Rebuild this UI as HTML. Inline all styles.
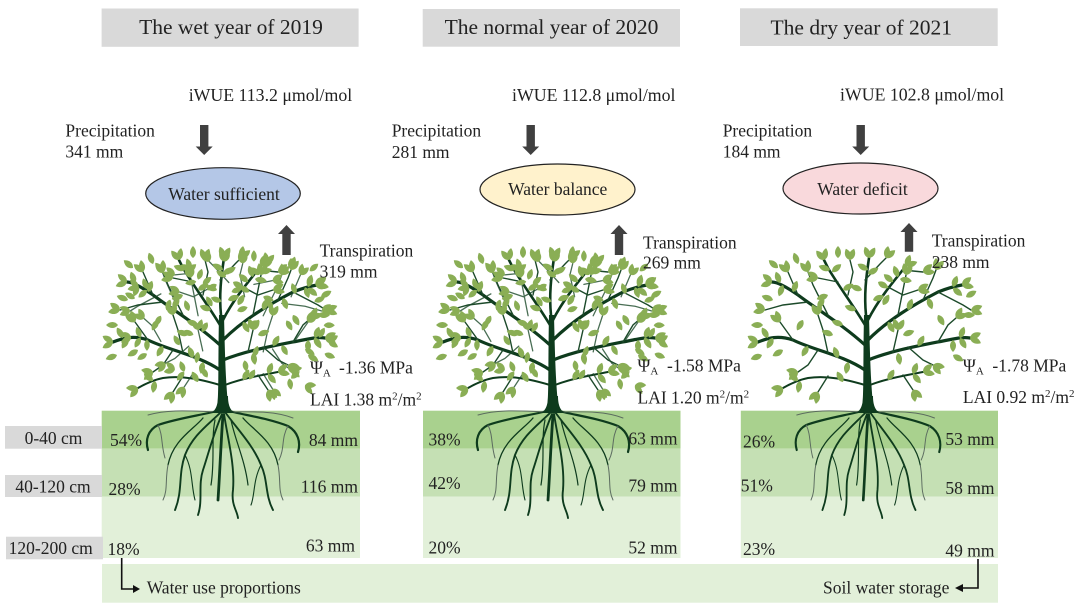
<!DOCTYPE html>
<html><head><meta charset="utf-8"><style>
html,body{margin:0;padding:0;background:#fff;}
svg{display:block;}
</style></head><body>
<svg width="1080" height="608" viewBox="0 0 1080 608" xmlns="http://www.w3.org/2000/svg" font-family="'Liberation Serif','Times New Roman',serif" fill="#222">
<defs>
<path id="L" d="M0,0 C3,-4 8,-4 12,0 C8,4 3,4 0,0Z" fill="#8aae55"/>
<g id="branches" fill="none" stroke="#0e3b1d" stroke-linecap="round">
  <path stroke-width="3.2" d="M-3,-40 C-25,-55 -55,-60 -75,-70 C-90,-75 -100,-72 -110,-68"/>
  <path stroke-width="3.2" d="M-3,-65 C-25,-85 -50,-100 -70,-115 C-80,-122 -90,-128 -96,-128"/>
  <path stroke-width="2.6" d="M-3,-85 C-15,-105 -30,-125 -40,-142 L-44,-150"/>
  <path stroke-width="2.6" d="M-2,-95 C-4,-115 -2,-132 1,-152"/>
  <path stroke-width="2.6" d="M0,-90 C10,-110 25,-128 38,-144"/>
  <path stroke-width="3.2" d="M0,-70 C20,-90 45,-105 70,-118 C80,-122 88,-124 94,-125"/>
  <path stroke-width="3.2" d="M0,-50 C25,-60 55,-65 80,-70 C90,-72 96,-73 102,-72"/>
  <path stroke-width="2" d="M-3,-25 C-20,-30 -40,-35 -60,-32 C-70,-30 -78,-26 -85,-22"/>
  <path stroke-width="2" d="M2,-25 C20,-32 40,-35 55,-38"/>
</g>
<g id="twigs" fill="none" stroke="#1c4a2a" stroke-width="1.4" stroke-linecap="round">
  <path d="M-50,-60 L-60,-45 L-70,-38"/>
  <path d="M-75,-70 L-88,-88"/>
  <path d="M-40,-57 L-45,-80 L-50,-95"/>
  <path d="M-40,-95 L-55,-125 L-60,-138"/>
  <path d="M-70,-115 L-80,-138"/>
  <path d="M-60,-108 L-85,-105 L-103,-100"/>
  <path d="M-20,-115 L-15,-138 L-18,-150"/>
  <path d="M-30,-128 L-50,-132"/>
  <path d="M-3,-130 L12,-146 L18,-152"/>
  <path d="M20,-123 L35,-115 L50,-120"/>
  <path d="M35,-140 L55,-138"/>
  <path d="M30,-95 L35,-120 L38,-135"/>
  <path d="M55,-110 L65,-132 L68,-140"/>
  <path d="M70,-118 L95,-105 L103,-100"/>
  <path d="M40,-63 L55,-50 L65,-45"/>
  <path d="M70,-68 L80,-85 L88,-92"/>
  <path d="M25,-58 L30,-80"/>
  <path d="M-40,-34 L-50,-18"/>
  <path d="M35,-35 L45,-20"/>
</g>
<g id="leaves">
  <use href="#L" transform="translate(-110,-68) rotate(150)"/><use href="#L" transform="translate(-110,-68) rotate(210)"/>
  <use href="#L" transform="translate(-100,-72) rotate(240)"/><use href="#L" transform="translate(-95,-72) rotate(120)"/>
  <use href="#L" transform="translate(-96,-128) rotate(160)"/><use href="#L" transform="translate(-96,-128) rotate(220)"/>
  <use href="#L" transform="translate(-88,-127) rotate(250)"/><use href="#L" transform="translate(-85,-125) rotate(110)"/>
  <use href="#L" transform="translate(-44,-150) rotate(230)"/><use href="#L" transform="translate(-44,-150) rotate(280)"/>
  <use href="#L" transform="translate(-38,-140) rotate(200)"/><use href="#L" transform="translate(-36,-138) rotate(320)"/>
  <use href="#L" transform="translate(1,-152) rotate(250)"/><use href="#L" transform="translate(1,-152) rotate(300)"/>
  <use href="#L" transform="translate(0,-140) rotate(210)"/><use href="#L" transform="translate(0,-136) rotate(330)"/>
  <use href="#L" transform="translate(38,-144) rotate(290)"/><use href="#L" transform="translate(38,-144) rotate(340)"/>
  <use href="#L" transform="translate(30,-133) rotate(250)"/><use href="#L" transform="translate(32,-131) rotate(10)"/>
  <use href="#L" transform="translate(94,-125) rotate(320)"/><use href="#L" transform="translate(94,-125) rotate(10)"/>
  <use href="#L" transform="translate(85,-123) rotate(290)"/><use href="#L" transform="translate(85,-122) rotate(40)"/>
  <use href="#L" transform="translate(102,-72) rotate(335)"/><use href="#L" transform="translate(102,-72) rotate(25)"/>
  <use href="#L" transform="translate(92,-72) rotate(290)"/><use href="#L" transform="translate(92,-72) rotate(60)"/>
  <use href="#L" transform="translate(-85,-22) rotate(130)"/><use href="#L" transform="translate(-85,-22) rotate(180)"/>
  <use href="#L" transform="translate(-70,-29) rotate(220)"/><use href="#L" transform="translate(-68,-29) rotate(100)"/>
  <use href="#L" transform="translate(55,-38) rotate(320)"/><use href="#L" transform="translate(55,-38) rotate(10)"/>
  <use href="#L" transform="translate(45,-36) rotate(290)"/><use href="#L" transform="translate(45,-36) rotate(50)"/>
  <use href="#L" transform="translate(-70,-38) rotate(140)"/><use href="#L" transform="translate(-70,-38) rotate(190)"/>
  <use href="#L" transform="translate(-88,-88) rotate(215)"/><use href="#L" transform="translate(-88,-88) rotate(250)"/>
  <use href="#L" transform="translate(-50,-95) rotate(240)"/><use href="#L" transform="translate(-50,-95) rotate(280)"/>
  <use href="#L" transform="translate(-60,-138) rotate(230)"/><use href="#L" transform="translate(-60,-138) rotate(270)"/>
  <use href="#L" transform="translate(-80,-138) rotate(220)"/><use href="#L" transform="translate(-80,-138) rotate(260)"/>
  <use href="#L" transform="translate(-103,-100) rotate(170)"/><use href="#L" transform="translate(-103,-100) rotate(215)"/>
  <use href="#L" transform="translate(-18,-150) rotate(250)"/><use href="#L" transform="translate(-18,-150) rotate(290)"/>
  <use href="#L" transform="translate(-50,-132) rotate(170)"/><use href="#L" transform="translate(-50,-132) rotate(210)"/>
  <use href="#L" transform="translate(18,-152) rotate(280)"/><use href="#L" transform="translate(18,-152) rotate(320)"/>
  <use href="#L" transform="translate(50,-120) rotate(330)"/><use href="#L" transform="translate(50,-120) rotate(10)"/>
  <use href="#L" transform="translate(55,-138) rotate(320)"/><use href="#L" transform="translate(55,-138) rotate(360)"/>
  <use href="#L" transform="translate(38,-135) rotate(260)"/><use href="#L" transform="translate(38,-135) rotate(300)"/>
  <use href="#L" transform="translate(68,-140) rotate(270)"/><use href="#L" transform="translate(68,-140) rotate(310)"/>
  <use href="#L" transform="translate(103,-100) rotate(340)"/><use href="#L" transform="translate(103,-100) rotate(20)"/>
  <use href="#L" transform="translate(65,-45) rotate(10)"/><use href="#L" transform="translate(65,-45) rotate(50)"/>
  <use href="#L" transform="translate(88,-92) rotate(300)"/><use href="#L" transform="translate(88,-92) rotate(340)"/>
  <use href="#L" transform="translate(30,-80) rotate(250)"/><use href="#L" transform="translate(30,-80) rotate(300)"/>
  <use href="#L" transform="translate(-50,-18) rotate(100)"/><use href="#L" transform="translate(-50,-18) rotate(140)"/>
  <use href="#L" transform="translate(45,-20) rotate(40)"/><use href="#L" transform="translate(45,-20) rotate(80)"/>
  <use href="#L" transform="translate(-60,-64) rotate(120)"/><use href="#L" transform="translate(-30,-52) rotate(250)"/>
  <use href="#L" transform="translate(-20,-48) rotate(100)"/><use href="#L" transform="translate(-50,-102) rotate(300)"/>
  <use href="#L" transform="translate(-25,-85) rotate(200)"/><use href="#L" transform="translate(-75,-118) rotate(290)"/>
  <use href="#L" transform="translate(-12,-100) rotate(200)"/><use href="#L" transform="translate(-25,-120) rotate(330)"/>
  <use href="#L" transform="translate(-6,-120) rotate(200)"/><use href="#L" transform="translate(5,-110) rotate(340)"/>
  <use href="#L" transform="translate(15,-105) rotate(300)"/><use href="#L" transform="translate(25,-128) rotate(220)"/>
  <use href="#L" transform="translate(40,-100) rotate(290)"/><use href="#L" transform="translate(60,-112) rotate(70)"/>
  <use href="#L" transform="translate(20,-88) rotate(60)"/><use href="#L" transform="translate(50,-64) rotate(300)"/>
  <use href="#L" transform="translate(30,-57) rotate(80)"/><use href="#L" transform="translate(85,-70) rotate(90)"/>
  <use href="#L" transform="translate(-25,-28) rotate(240)"/><use href="#L" transform="translate(20,-30) rotate(300)"/>
  <use href="#L" transform="translate(-95,-110) rotate(200)"/><use href="#L" transform="translate(-105,-85) rotate(180)"/>
  <use href="#L" transform="translate(95,-95) rotate(0)"/><use href="#L" transform="translate(98,-113) rotate(330)"/>
  <use href="#L" transform="translate(-35,-75) rotate(200)"/><use href="#L" transform="translate(35,-75) rotate(340)"/>
  <use href="#L" transform="translate(-70,-146) rotate(250)"/><use href="#L" transform="translate(-30,-152) rotate(270)"/>
  <use href="#L" transform="translate(-90,-142) rotate(220)"/><use href="#L" transform="translate(10,-128) rotate(30)"/>
  <use href="#L" transform="translate(-40,-115) rotate(160)"/><use href="#L" transform="translate(70,-95) rotate(60)"/>
  <use href="#L" transform="translate(-65,-90) rotate(120)"/><use href="#L" transform="translate(-85,-60) rotate(150)"/>
  <use href="#L" transform="translate(85,-55) rotate(30)"/><use href="#L" transform="translate(-106,-55) rotate(160)"/>
</g>
<g id="trunk" fill="#0e3b1d">
 <path d="M-6,2 C-4,-20 -5,-50 -4,-95 L1,-95 C2,-50 3,-20 6,2 Z"/>
 <path d="M-12,3 C-6,0 -5,-8 -5,-14 L5,-14 C5,-8 6,0 12,3Z"/>
</g>
<g id="canopyFull">
 <use href="#branches"/>
 <use href="#twigs"/>
 <g transform="translate(3,-4) scale(-0.93,0.95)">
  <use href="#twigs" opacity="0.8"/>
  <use href="#leaves"/>
 </g>
 <use href="#leaves"/>
 <use href="#trunk"/>
</g>
<g id="canopyThin">
 <use href="#branches"/>
 <use href="#twigs"/>
 <use href="#leaves"/>
 <use href="#trunk"/>
</g>
<g id="roots" fill="none" stroke-linecap="round">
 <g stroke="#0e3b1d">
  <path stroke-width="2.2" d="M-2,0 C-20,5 -45,8 -65,15 C-75,20 -78,30 -75,40"/>
  <path stroke-width="1.9" d="M-2,2 C-15,15 -30,25 -38,45 C-45,65 -40,80 -48,100"/>
  <path stroke-width="1.9" d="M-1,4 C-10,25 -15,45 -20,60 C-25,75 -20,90 -25,105"/>
  <path stroke-width="2.8" d="M0,5 C-2,30 -3,60 -5,90"/>
  <path stroke-width="1.9" d="M1,4 C5,30 12,55 10,80 C8,95 14,100 15,108"/>
  <path stroke-width="1.9" d="M2,2 C15,20 30,35 38,55 C45,70 42,85 50,100"/>
  <path stroke-width="2.2" d="M2,0 C20,5 45,8 65,16 C75,22 78,32 75,42"/>
  <path stroke-width="1.3" d="M-20,8 C-30,20 -50,30 -55,55"/>
  <path stroke-width="1.3" d="M20,8 C30,20 50,30 55,55"/>
  <path stroke-width="1.1" d="M-38,45 C-30,60 -32,75 -28,90"/>
  <path stroke-width="1.1" d="M38,55 C30,70 32,85 28,95"/>
  <path stroke-width="1.2" d="M-8,10 C-12,30 -8,50 -12,75"/>
  <path stroke-width="1.2" d="M8,10 C12,30 22,50 25,75"/>
 </g>
 <g stroke="#5b6b5f" stroke-width="1">
  <path d="M0,2 C-25,2 -50,-2 -75,5"/>
  <path d="M0,2 C25,2 50,0 70,8"/>
  <path d="M-65,15 C-60,25 -62,35 -58,48"/>
  <path d="M65,16 C58,28 62,38 56,50"/>
  <path d="M-55,55 C-58,70 -55,80 -60,90"/>
  <path d="M55,55 C58,70 55,80 60,90"/>
 </g>
</g>
</defs>

<!-- headers -->
<rect x="101.6" y="8.5" width="257" height="38.3" fill="#d9d9d9"/>
<rect x="422.7" y="9" width="257.3" height="37.7" fill="#d9d9d9"/>
<rect x="740" y="8.3" width="257.7" height="37.7" fill="#d9d9d9"/>
<g font-size="21.5" text-anchor="middle">
<text x="231" y="34">The wet year of 2019</text>
<text x="551.5" y="34">The normal year of 2020</text>
<text x="861.3" y="34.3">The dry year of 2021</text>
</g>

<!-- iWUE -->
<g font-size="17.8">
<text x="188.7" y="101">iWUE 113.2 μmol/mol</text>
<text x="512" y="101">iWUE 112.8 μmol/mol</text>
<text x="840" y="100.5">iWUE 102.8 μmol/mol</text>
</g>

<g font-size="17.5">
<text x="65.4" y="136.7">Precipitation</text><text x="65.4" y="157.5">341 mm</text>
<text x="391.7" y="136.7">Precipitation</text><text x="391.7" y="158">281 mm</text>
<text x="722.7" y="136.7">Precipitation</text><text x="722.7" y="157.5">184 mm</text>
</g>

<!-- down arrows -->
<g fill="#404040">
<polygon points="200,125 208.4,125 208.4,146.5 212.7,146.5 204.2,155 195.7,146.5 200,146.5"/>
<polygon points="526.5,125 534.9,125 534.9,146.5 539.2,146.5 530.7,155 522.2,146.5 526.5,146.5"/>
<polygon points="856.5,125 864.9,125 864.9,146.5 869.2,146.5 860.7,155 852.2,146.5 856.5,146.5"/>
<!-- up arrows -->
<polygon points="282.3,255 290.7,255 290.7,234 295,234 286.5,225 278,234 282.3,234"/>
<polygon points="614.8,255 623.2,255 623.2,234 627.5,234 619,225 610.5,234 614.8,234"/>
<polygon points="904.8,251.7 913.2,251.7 913.2,232 917.5,232 909,223 900.5,232 904.8,232"/>
</g>

<!-- ellipses -->
<ellipse cx="223" cy="193.5" rx="77.3" ry="25.8" fill="#b4c7e7" stroke="#222" stroke-width="1.2"/>
<ellipse cx="557.5" cy="189.5" rx="77.5" ry="25.5" fill="#fff2cc" stroke="#222" stroke-width="1.2"/>
<ellipse cx="860.5" cy="188.5" rx="77.5" ry="25.5" fill="#f9d9dc" stroke="#222" stroke-width="1.2"/>
<g font-size="17.5" text-anchor="middle">
<text x="224" y="200">Water sufficient</text>
<text x="557.7" y="195">Water balance</text>
<text x="862.5" y="195">Water deficit</text>
</g>

<!-- soil bands -->
<rect x="101.7" y="410.7" width="258.3" height="38" fill="#a9d18e"/>
<rect x="101.7" y="448.7" width="258.3" height="48" fill="#c5e0b4"/>
<rect x="101.7" y="496.7" width="258.3" height="61.3" fill="#e2f0d9"/>
<rect x="423" y="410.7" width="257.5" height="38" fill="#a9d18e"/>
<rect x="423" y="448.7" width="257.5" height="48" fill="#c5e0b4"/>
<rect x="423" y="496.7" width="257.5" height="61.3" fill="#e2f0d9"/>
<rect x="740.8" y="410.7" width="257.2" height="38" fill="#a9d18e"/>
<rect x="740.8" y="448.7" width="257.2" height="48" fill="#c5e0b4"/>
<rect x="740.8" y="496.7" width="257.2" height="61.3" fill="#e2f0d9"/>
<rect x="102" y="564" width="896" height="38.7" fill="#e2f0d9"/>

<!-- trees -->
<use href="#roots" transform="translate(223,410)"/>
<use href="#canopyFull" transform="translate(223,410)"/>
<use href="#roots" transform="translate(553,410)"/>
<use href="#canopyFull" transform="translate(553,410)"/>
<use href="#roots" transform="translate(868,410) scale(0.95,1)"/>
<use href="#canopyThin" transform="translate(868,410)"/>

<g font-size="17.5">
<text x="319.6" y="256.7">Transpiration</text><text x="319.6" y="277.7">319 mm</text>
<text x="643" y="248.3">Transpiration</text><text x="643" y="268.3">269 mm</text>
<text x="931.7" y="246.7">Transpiration</text><text x="931.7" y="268">238 mm</text>
</g>

<!-- Psi and LAI -->
<g font-size="17.5">
<text x="310" y="373.3">Ψ<tspan font-size="11" dy="3">A</tspan><tspan x="339" dy="-3">-1.36 MPa</tspan></text>
<text x="310" y="405.7">LAI 1.38 m<tspan font-size="11" dy="-6">2</tspan><tspan dy="6">/m</tspan><tspan font-size="11" dy="-6">2</tspan></text>
<text x="637.5" y="371.7">Ψ<tspan font-size="11" dy="3">A</tspan><tspan x="667" dy="-3">-1.58 MPa</tspan></text>
<text x="637.5" y="403.3">LAI 1.20 m<tspan font-size="11" dy="-6">2</tspan><tspan dy="6">/m</tspan><tspan font-size="11" dy="-6">2</tspan></text>
<text x="962.9" y="371.7">Ψ<tspan font-size="11" dy="3">A</tspan><tspan x="992.4" dy="-3">-1.78 MPa</tspan></text>
<text x="962.9" y="403">LAI 0.92 m<tspan font-size="11" dy="-6">2</tspan><tspan dy="6">/m</tspan><tspan font-size="11" dy="-6">2</tspan></text>
</g>

<!-- depth labels -->
<rect x="5" y="426" width="97" height="22.7" fill="#d9d9d9"/>
<rect x="5" y="475" width="97" height="22" fill="#d9d9d9"/>
<rect x="6" y="536.7" width="97" height="22.6" fill="#d9d9d9"/>
<g font-size="17.5" text-anchor="middle">
<text x="53.5" y="444">0-40 cm</text>
<text x="53" y="492.7">40-120 cm</text>
<text x="50.7" y="554">120-200 cm</text>
</g>

<!-- percentages -->
<g font-size="17.5">
<text x="110" y="446">54%</text>
<text x="108.5" y="495">28%</text>
<text x="107.5" y="555">18%</text>
<text x="428.5" y="445.5">38%</text>
<text x="428.5" y="489">42%</text>
<text x="428.5" y="553.3">20%</text>
<text x="743" y="447.3">26%</text>
<text x="740.8" y="491.7">51%</text>
<text x="743" y="555">23%</text>
</g>
<g font-size="17.5" text-anchor="end">
<text x="358" y="446">84 mm</text>
<text x="358" y="492.7">116 mm</text>
<text x="355" y="551.7">63 mm</text>
<text x="677.5" y="444.5">63 mm</text>
<text x="677.5" y="491.7">79 mm</text>
<text x="677.5" y="553.3">52 mm</text>
<text x="994.5" y="445">53 mm</text>
<text x="994.5" y="494">58 mm</text>
<text x="994.5" y="556.7">49 mm</text>
</g>

<!-- bottom arrows -->
<polyline points="121.7,558 121.7,589 134,589" fill="none" stroke="#111" stroke-width="1.6"/>
<polygon points="133,585 140,589 133,593" fill="#111"/>
<polyline points="978,559 978,588 962,588" fill="none" stroke="#111" stroke-width="1.6"/>
<polygon points="963,584 955,588 963,592" fill="#111"/>
<g font-size="17.5">
<text x="146.7" y="593.5">Water use proportions</text>
<text x="823" y="593.3">Soil water storage</text>
</g>
</svg>
</body></html>
